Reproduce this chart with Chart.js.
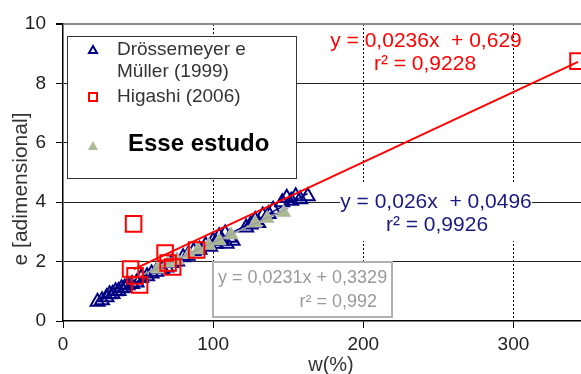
<!DOCTYPE html>
<html lang="pt">
<head>
<meta charset="UTF-8">
<title>e x w</title>
<script src="https://cdn.jsdelivr.net/npm/chart.js"></script>
<style>
  html, body { margin: 0; padding: 0; background: #fff; overflow: hidden; }
  #box { width: 581px; height: 374px; }
  canvas { display: block; }
</style>
</head>
<body>
<div id="box"><canvas id="chart"></canvas></div>
<script>
// Drössemeyer e Müller (1999)
const drosX = [23, 26, 29, 31, 33, 35, 37, 39, 41, 43, 46, 49, 52, 56, 59, 62, 66, 69, 72, 76, 80, 83, 87, 91, 95, 98, 100, 102, 104, 106, 108, 109, 111, 113, 122, 125, 128, 130, 133, 137, 140, 146, 149, 152, 155, 158, 163];
const drosY = [0.65, 0.7, 0.8, 0.9, 0.91, 1.0, 1.01, 1.1, 1.12, 1.2, 1.25, 1.3, 1.45, 1.51, 1.6, 1.66, 1.75, 1.8, 1.95, 2.0, 2.15, 2.2, 2.35, 2.4, 2.55, 2.5, 2.7, 2.6, 2.85, 2.7, 2.95, 2.6, 2.8, 2.7, 3.15, 3.25, 3.4, 3.3, 3.55, 3.6, 3.75, 4.0, 4.15, 4.05, 4.2, 4.1, 4.2];
// Higashi (2006)
const higX = [47, 45, 48, 51, 68, 70, 73, 89, 343];
const higY = [3.27, 1.75, 1.52, 1.21, 2.29, 1.95, 1.82, 2.39, 8.75];
// Esse estudo
const esseX = [63, 70, 76, 84, 90, 97, 104, 112, 128, 136, 147];
const esseY = [1.75, 1.95, 2.05, 2.25, 2.4, 2.55, 2.7, 2.9, 3.3, 3.45, 3.65];

// linhas de tendência: [inclinação, intercepto, xmin, xmax]
const fitHig = [0.0236, 0.629, 47, 343];
const fitDros = [0.026, 0.0496, 23, 163];
const fitEsse = [0.0231, 0.3329, 45, 150];

const xTicks = [0, 100, 200, 300];
const yTicks = [0, 2, 4, 6, 8, 10];

const pts = (xs, ys) => xs.map((x, i) => ({ x: x, y: ys[i] }));
const fitPts = f => [{ x: f[2], y: f[0] * f[2] + f[1] }, { x: f[3], y: f[0] * f[3] + f[1] }];

const FONT = '"Liberation Sans", Arial, sans-serif';

// a área do gráfico vai até a borda direita (o original é cortado ali)
const fullRight = {
  id: 'fullRight',
  afterLayout(chart) {
    const a = chart.chartArea, x = chart.scales.x;
    a.right = chart.width;
    a.width = a.right - a.left;
    x.right = a.right;
    x.width = a.width;
    x.configure();
  }
};

// textos, legenda e títulos dos eixos
const labels = {
  id: 'labels',
  afterDatasetsDraw(chart) {
    const ctx = chart.ctx;
    ctx.save();
    ctx.textAlign = 'center';
    ctx.textBaseline = 'middle';
    ctx.font = '21px ' + FONT;

    // equação vermelha
    ctx.fillStyle = '#ff0000';
    ctx.fillText('y = 0,0236x  + 0,629', 426, 41);
    ctx.fillText('r² = 0,9228', 425, 64);

    // equação azul (fundo branco sobre a grade)
    ctx.fillStyle = '#fff';
    ctx.fillRect(340, 184, 192, 57);
    ctx.fillStyle = '#1a1a80';
    ctx.fillText('y = 0,026x  + 0,0496', 436, 202);
    ctx.fillText('r² = 0,9926', 437, 225);

    // caixa cinza
    ctx.fillStyle = '#fff';
    ctx.fillRect(213, 262, 179, 55);
    ctx.strokeStyle = '#b0b0b0';
    ctx.lineWidth = 2;
    ctx.strokeRect(213, 262, 179, 55);
    ctx.fillStyle = '#999999';
    ctx.font = '18px ' + FONT;
    ctx.textAlign = 'left';
    ctx.fillText('y = 0,0231x + 0,3329', 218, 278);
    ctx.textAlign = 'right';
    ctx.fillText('r² = 0,992', 377, 302);

    // legenda
    ctx.fillStyle = '#fff';
    ctx.fillRect(67, 36, 229, 142);
    ctx.strokeStyle = '#333';
    ctx.lineWidth = 1;
    ctx.strokeRect(67.5, 36.5, 229, 142);

    ctx.strokeStyle = '#000080';
    ctx.lineWidth = 2;
    ctx.beginPath();
    ctx.moveTo(93, 46); ctx.lineTo(97, 53); ctx.lineTo(89, 53); ctx.closePath();
    ctx.stroke();

    ctx.strokeStyle = '#ff0000';
    ctx.strokeRect(89, 93, 8, 8);

    ctx.fillStyle = '#a9bb92';
    ctx.beginPath();
    ctx.moveTo(93, 141); ctx.lineTo(98, 150); ctx.lineTo(88, 150); ctx.closePath();
    ctx.fill();

    ctx.textAlign = 'left';
    ctx.fillStyle = '#333';
    ctx.font = '19px ' + FONT;
    ctx.fillText('Drössemeyer e', 117, 50);
    ctx.fillText('Müller (1999)', 117, 72);
    ctx.fillText('Higashi (2006)', 117, 97);
    ctx.fillStyle = '#000';
    ctx.font = 'bold 24px ' + FONT;
    ctx.fillText('Esse estudo', 128, 144);

    // títulos dos eixos
    ctx.fillStyle = '#333';
    ctx.font = '20px ' + FONT;
    ctx.textAlign = 'center';
    ctx.fillText('w(%)', 331, 365);
    ctx.font = '21px ' + FONT;
    ctx.translate(21, 189);
    ctx.rotate(-Math.PI / 2);
    ctx.fillText('e [adimensional]', 0, 0);
    ctx.restore();
  }
};

// o primeiro dataset fica por cima
new Chart(document.getElementById('chart'), {
  type: 'scatter',
  data: {
    datasets: [
      {
        label: 'tend. Higashi',
        type: 'line',
        data: fitPts(fitHig),
        borderColor: '#ff0000',
        borderWidth: 2,
        pointRadius: 0
      },
      {
        label: 'Higashi (2006)',
        data: pts(higX, higY),
        pointStyle: 'rect',
        pointRadius: 11,
        borderColor: '#ff0000',
        backgroundColor: 'rgba(0,0,0,0)',
        borderWidth: 2
      },
      {
        label: 'tend. Esse estudo',
        type: 'line',
        data: fitPts(fitEsse),
        borderColor: '#a0a0a0',
        borderWidth: 1.5,
        pointRadius: 0
      },
      {
        label: 'Esse estudo',
        data: pts(esseX, esseY),
        pointStyle: 'triangle',
        pointRadius: 8,
        borderColor: '#bdbdb8',
        backgroundColor: '#a8b98f',
        borderWidth: 1
      },
      {
        label: 'tend. Drössemeyer',
        type: 'line',
        data: fitPts(fitDros),
        borderColor: '#000080',
        borderWidth: 1.5,
        pointRadius: 0
      },
      {
        label: 'Drössemeyer e Müller (1999)',
        data: pts(drosX, drosY),
        pointStyle: 'triangle',
        pointRadius: 8,
        borderColor: '#000080',
        backgroundColor: 'rgba(0,0,0,0)',
        borderWidth: 2
      }
    ]
  },
  options: {
    responsive: true,
    maintainAspectRatio: false,
    animation: false,
    events: [],
    layout: { padding: { top: 24, right: 0, left: 0, bottom: 0 } },
    plugins: {
      legend: { display: false },
      tooltip: { enabled: false }
    },
    scales: {
      x: {
        type: 'linear',
        min: 0,
        max: 345,
        afterBuildTicks: s => { s.ticks = xTicks.map(v => ({ value: v })); },
        afterFit: s => { s.height = 53; },
        ticks: { color: '#222', font: { family: FONT, size: 19 }, padding: 5, maxRotation: 0 },
        grid: {
          color: ctx => (ctx.tick && ctx.tick.value === 0) ? 'rgba(0,0,0,0)' : '#000',
          lineWidth: 1,
          tickLength: 7,
          tickColor: '#000',
          tickBorderDash: []
        },
        border: { display: true, color: '#000', width: 1.5, dash: [2, 2] }
      },
      y: {
        min: 0,
        max: 10,
        afterBuildTicks: s => { s.ticks = yTicks.map(v => ({ value: v })); },
        afterFit: s => { s.width = 63; },
        ticks: { color: '#222', font: { family: FONT, size: 19 }, padding: 10 },
        grid: {
          color: ctx => {
            const v = ctx.tick ? ctx.tick.value : 0;
            if (v === 0) return 'rgba(0,0,0,0)';
            if (v === 10) return '#888';
            return '#222';
          },
          lineWidth: ctx => (ctx.tick && ctx.tick.value === 10) ? 2 : 1,
          tickLength: 7,
          tickColor: '#000'
        },
        border: { display: true, color: '#000', width: 1.5 }
      }
    }
  },
  plugins: [fullRight, labels]
});
</script>
</body>
</html>
